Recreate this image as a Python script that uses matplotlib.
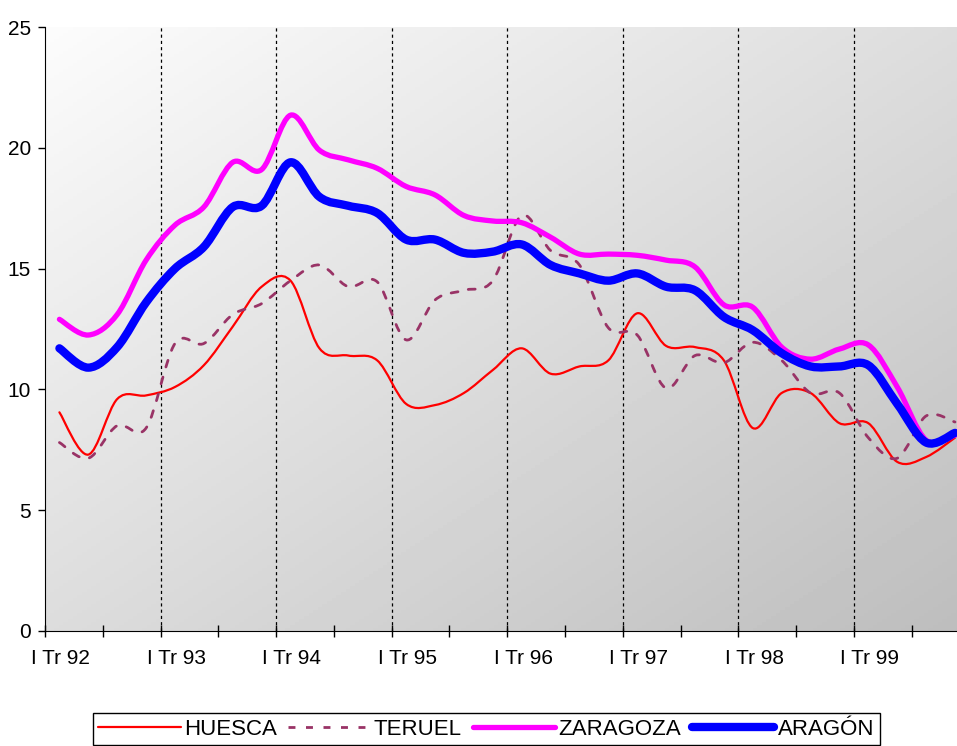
import numpy as np
import matplotlib
matplotlib.use("Agg")
from matplotlib import pyplot as plt
from matplotlib.path import Path
from matplotlib.patches import PathPatch
from matplotlib.lines import Line2D

plt.rcParams['font.family'] = ['Liberation Sans', 'DejaVu Sans']

# quarterly values, I Tr 92 .. IV Tr 99
years = ["92", "93", "94", "95", "96", "97", "98", "99"]
huesca = [9.05, 7.3, 9.6, 9.75, 10.1, 11.0, 12.6, 14.25, 14.5, 11.7, 11.4, 11.2,
          9.4, 9.35, 9.85, 10.8, 11.7, 10.65, 10.95, 11.2, 13.15, 11.8, 11.75, 11.2,
          8.4, 9.85, 9.85, 8.6, 8.6, 7.0, 7.2, 8.0]
teruel = [7.8, 7.15, 8.5, 8.4, 11.9, 11.9, 13.1, 13.55, 14.5, 15.15, 14.25, 14.45,
          12.05, 13.7, 14.1, 14.5, 17.2, 15.75, 15.15, 12.55, 12.25, 10.05, 11.4, 11.1,
          11.95, 11.2, 9.85, 9.85, 8.0, 7.15, 8.9, 8.65]
zaragoza = [12.9, 12.25, 13.1, 15.35, 16.8, 17.55, 19.4, 19.1, 21.35, 19.9, 19.5, 19.15,
            18.4, 18.05, 17.2, 16.97, 16.9, 16.3, 15.6, 15.6, 15.55, 15.35, 15.07, 13.5,
            13.4, 11.75, 11.25, 11.67, 11.84, 10.1, 7.9, 8.1]
aragon = [11.7, 10.9, 11.75, 13.6, 15.0, 15.9, 17.55, 17.6, 19.4, 17.97, 17.6, 17.3,
          16.2, 16.2, 15.65, 15.7, 16.0, 15.15, 14.8, 14.5, 14.8, 14.25, 14.1, 13.0,
          12.45, 11.5, 10.95, 10.95, 11.0, 9.4, 7.8, 8.2]

names = ["HUESCA", "TERUEL", "ZARAGOZA", "ARAGÓN"]
series = [huesca, teruel, zaragoza, aragon]
styles = [
    dict(color="#ff0000", lw=1.6, ls="-"),
    dict(color="#993366", lw=2.0, ls=(0, (2.5, 3.8))),
    dict(color="#ff00ff", lw=3.8, ls="-"),
    dict(color="#0000ff", lw=6.0, ls="-"),
]


def smooth_path(xs, ys):
    # Bezier segments through the points (Excel style smoothed line)
    p = np.column_stack([xs, ys]).astype(float)
    n = len(p)
    verts = [p[0]]
    codes = [Path.MOVETO]
    for i in range(n - 1):
        p0 = p[i - 1] if i > 0 else p[i]
        p3 = p[i + 2] if i + 2 < n else p[i + 1]
        c1 = p[i] + (p[i + 1] - p0) / 6
        c2 = p[i + 1] - (p3 - p[i]) / 6
        verts += [c1, c2, p[i + 1]]
        codes += [Path.CURVE4] * 3
    return Path(verts, codes)


fig = plt.figure(figsize=(9.57, 7.46), dpi=100)
ax = fig.add_axes([0.047, 0.1542, 0.966, 0.8096])

# gradient background
gx, gy = np.meshgrid(np.linspace(0, 1, 200), np.linspace(0, 1, 200))
grad = (gx + gy) / 2
ax.imshow(grad, extent=[0, 1, 0, 1], transform=ax.transAxes, origin="upper",
          cmap="gray_r", vmin=-0.05, vmax=4.0, aspect="auto", zorder=0)

x = np.arange(len(huesca))
handles = []
for name, vals, st in zip(names, series, styles):
    patch = PathPatch(smooth_path(x, vals), fill=False, edgecolor=st["color"],
                      lw=st["lw"], linestyle=st["ls"], capstyle="round",
                      joinstyle="round", zorder=3)
    ax.add_patch(patch)
    handles.append(Line2D([], [], color=st["color"], lw=st["lw"], ls=st["ls"],
                          solid_capstyle="round"))

ax.set_xlim(-0.5, len(x) - 0.5)
ax.set_ylim(0, 25)

# ticks between categories, labels every year
ax.set_xticks(np.arange(-0.5, len(x), 2))
ax.set_xticklabels([])
ax.set_xticks(np.arange(0.05, len(x), 4), minor=True)
ax.set_xticklabels(["I Tr " + y for y in years], minor=True)
ax.tick_params(axis="x", which="major", direction="inout", length=9, width=1)
ax.tick_params(axis="x", which="minor", length=0, pad=13, labelsize=15)
ax.set_yticks(range(0, 26, 5))
ax.tick_params(axis="y", direction="out", length=5, width=1, labelsize=15, pad=5)

for gx_ in np.arange(3.5, len(x), 4):
    ax.axvline(gx_, color="black", lw=0.9, ls=(0, (2.5, 2.5)), zorder=2)

ax.spines["top"].set_visible(False)
ax.spines["right"].set_visible(False)
ax.spines["left"].set_color("black")
ax.spines["bottom"].set_color("black")

fig.legend(handles, names, loc="upper center", bbox_to_anchor=(0.508, 0.0442),
           borderaxespad=0, ncol=4, frameon=True, fancybox=False, edgecolor="black",
           fontsize=16, handlelength=3.7, handletextpad=0.15,
           columnspacing=0.5, borderpad=0.25, framealpha=1)

fig.savefig("out.png", dpi=100)
